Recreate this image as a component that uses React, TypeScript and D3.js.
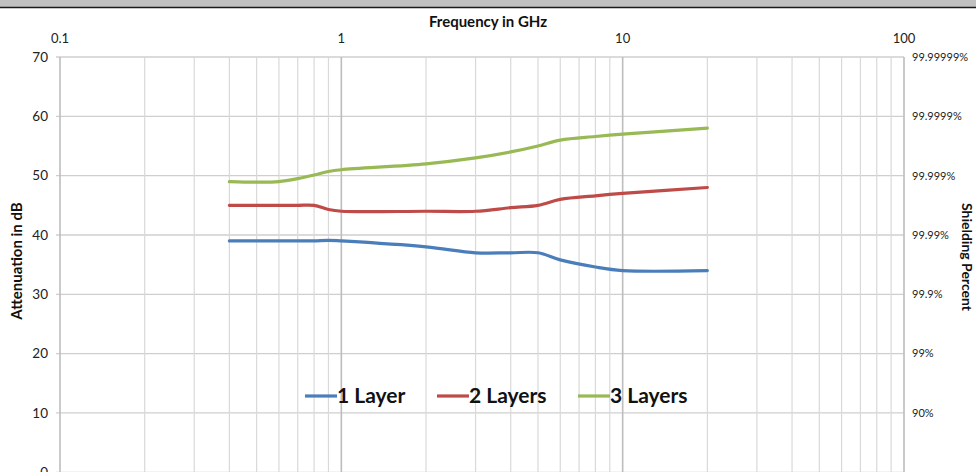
import React from "react";
import * as d3 from "d3";

// values
const freqs = [0.4, 0.5, 0.6, 0.7, 0.8, 0.9, 1, 2, 3, 4, 5, 6, 8, 10, 20];
const oneLayer = [39, 39, 39, 39, 39, 39.1, 39, 38, 37, 37, 37, 35.8, 34.6, 34, 34];
const twoLayers = [45, 45, 45, 45, 45, 44.3, 44, 44, 44, 44.6, 45, 46, 46.6, 47, 48];
const threeLayers = [49, 48.9, 49, 49.5, 50.1, 50.7, 51, 52, 53, 54, 55, 56, 56.6, 57, 58];

const seriesNames = ["1 Layer", "2 Layers", "3 Layers"];
const seriesColors = ["#4a7ebb", "#be4b48", "#98b954"];

const dbTicks = [0, 10, 20, 30, 40, 50, 60, 70];
const percentTicks = [10, 20, 30, 40, 50, 60, 70];
const percentLabels = ["90%", "99%", "99.9%", "99.99%", "99.999%", "99.9999%", "99.99999%"];
const freqTicks = [0.1, 1, 10, 100];

const W = 976;
const H = 472;

export default function App() {
  const left = 60;
  const right = 904;
  const top = 57;
  const bottom = 472.3;

  const x = d3.scaleLog().domain([0.1, 100]).range([left, right]);
  const y = d3.scaleLinear().domain([0, 70]).range([bottom, top]);

  // minor grid: 2..9 in each decade
  const minor: number[] = [];
  [0.1, 1, 10].forEach(d => {
    for (let k = 2; k <= 9; k++) minor.push(d * k);
  });

  const line = d3.line<number>()
    .x((_, i) => x(freqs[i]))
    .y(d => y(d))
    .curve(d3.curveCatmullRom.alpha(0.5));

  const allSeries = [oneLayer, twoLayers, threeLayers];
  const font = "Lato, 'Open Sans', sans-serif";

  // legend layout
  const legendY = 396;
  const legendX = [305, 437, 578];

  return (
    <svg width={W} height={H} style={{ position: "absolute", left: 0, top: 0, background: "#fff" }}
      fontFamily={font}>
      <rect x={0} y={0} width={W} height={7} fill="#c0c0c0" />
      <line x1={0} x2={W} y1={7.5} y2={7.5} stroke="#1a1a1a" strokeWidth={1.5} />

      {/* horizontal grid */}
      {dbTicks.map(t => (
        <line key={"h" + t} x1={left - 4} x2={right} y1={y(t)} y2={y(t)} stroke="#cfcfcf" strokeWidth={1.3} />
      ))}
      {/* vertical grid */}
      {minor.map(f => (
        <line key={"m" + f} x1={x(f)} x2={x(f)} y1={top} y2={H} stroke="#d9d9d9" strokeWidth={1.2} />
      ))}
      {freqTicks.map(f => (
        <line key={"M" + f} x1={x(f)} x2={x(f)} y1={top} y2={H} stroke="#bdbdbd" strokeWidth={1.6} />
      ))}

      {/* series */}
      {allSeries.map((s, i) => (
        <path key={seriesNames[i]} d={line(s) || ""} fill="none" stroke={seriesColors[i]}
          strokeWidth={3.2} strokeLinejoin="round" strokeLinecap="round" />
      ))}

      {/* left axis labels */}
      {dbTicks.map(t => (
        <text key={"l" + t} x={48} y={y(t)} dy="0.35em" textAnchor="end" fontSize={13.5} fill="#222">{t}</text>
      ))}
      {/* right axis labels */}
      {percentTicks.map((t, i) => (
        <text key={"r" + t} x={912} y={y(t)} dy="0.35em" textAnchor="start" fontSize={11} fill="#222">
          {percentLabels[i]}
        </text>
      ))}
      {/* top axis labels */}
      {freqTicks.map(f => (
        <text key={"t" + f} x={x(f)} y={43} textAnchor="middle" fontSize={13} fill="#222">{d3.format("~g")(f)}</text>
      ))}

      <text x={488} y={27} textAnchor="middle" fontSize={15} fontWeight="bold" fill="#111">Frequency in GHz</text>
      <text transform="translate(22,261) rotate(-90)" textAnchor="middle" fontSize={15} fontWeight="bold" fill="#111">
        Attenuation in dB
      </text>
      <text transform="translate(962,257) rotate(90)" textAnchor="middle" fontSize={14} fontWeight="bold" fill="#111">
        Shielding Percent
      </text>

      {/* legend */}
      {seriesNames.map((n, i) => (
        <g key={"lg" + n} transform={`translate(${legendX[i]},${legendY})`}>
          <line x1={0} x2={32} y1={0} y2={0} stroke={seriesColors[i]} strokeWidth={3.2} />
          <text x={32} y={0} dy="0.35em" fontSize={21} fontWeight="bold" fill="#111">{n}</text>
        </g>
      ))}
    </svg>
  );
}
